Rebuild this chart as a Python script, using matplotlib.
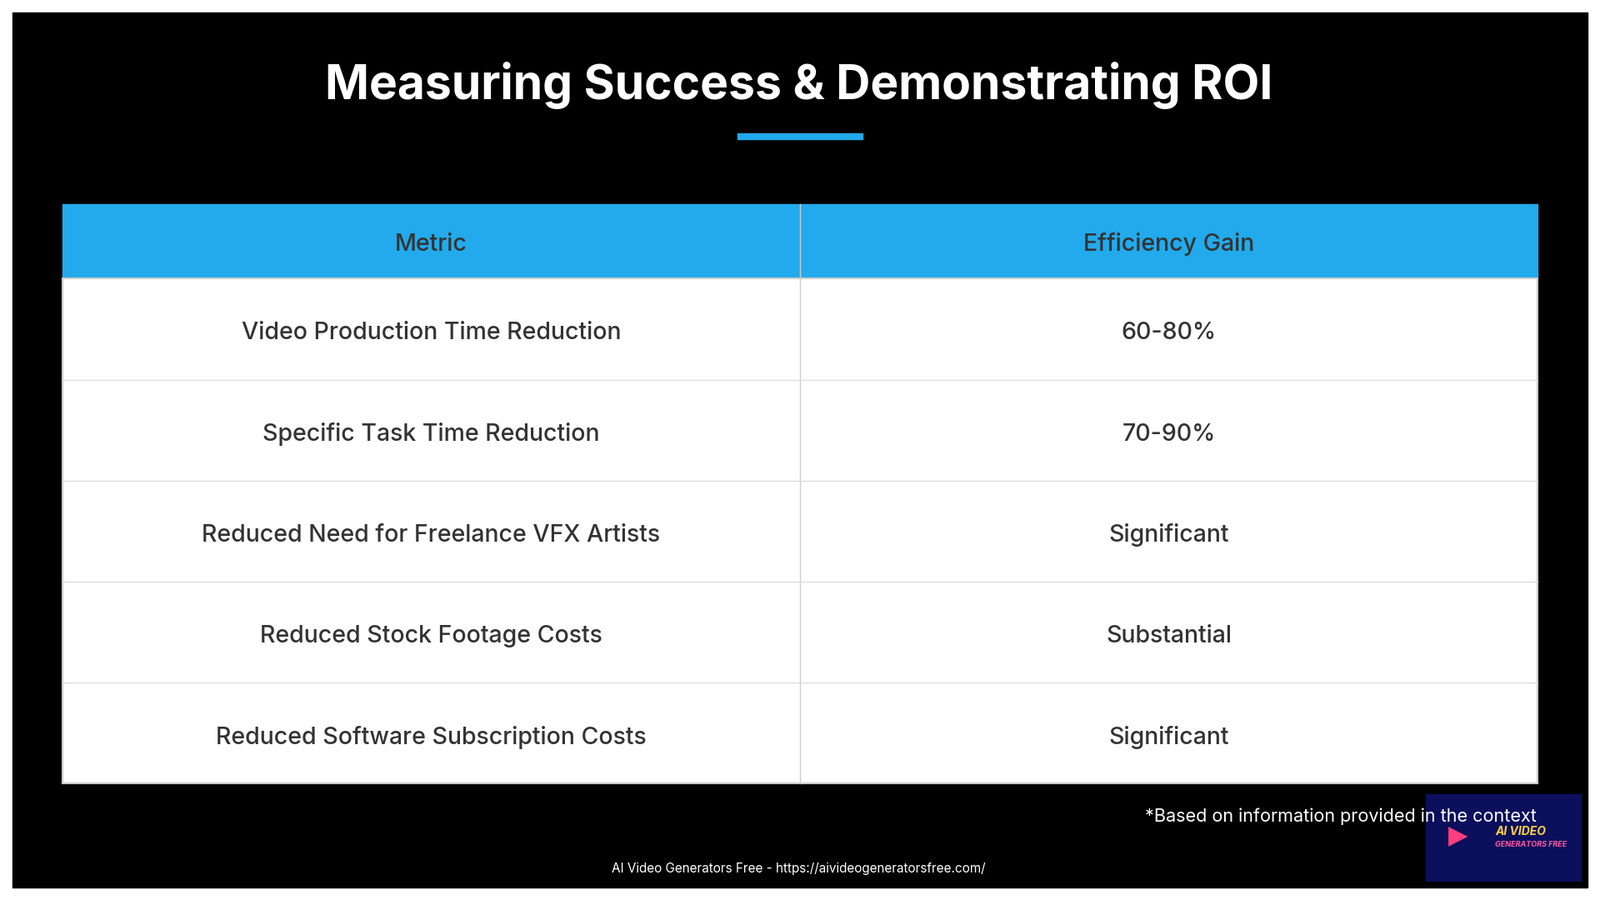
import matplotlib.pyplot as plt
from matplotlib.patches import Rectangle

title = "Measuring Success & Demonstrating ROI"
headers = ["Metric", "Efficiency Gain"]
metrics = ["Video Production Time Reduction", "Specific Task Time Reduction",
           "Reduced Need for Freelance VFX Artists", "Reduced Stock Footage Costs",
           "Reduced Software Subscription Costs"]
gains = ["60-80%", "70-90%", "Significant", "Substantial", "Significant"]
footnote = "*Based on information provided in the context"
footer = "AI Video Generators Free - https://aivideogeneratorsfree.com/"

W, H = 1568, 882
fig = plt.figure(figsize=(19.2, 10.8), dpi=100)
ax = fig.add_axes([0, 0, 1, 1])
ax.set_xlim(0, W)
ax.set_ylim(H, 0)
ax.axis("off")
fig.patch.set_facecolor("white")

ax.add_patch(Rectangle((12, 12), W - 24, H - 24, color="black"))
ax.text(783, 84, title, color="white", fontsize=41, fontweight="bold",
        family="Inter", ha="center", va="center")
ax.add_patch(Rectangle((723, 131), 122, 5, color="#22a8ea"))

x0, x1, xm = 61, 1507, 784
hy0, hy1 = 200, 273
rh = 99
ax.add_patch(Rectangle((x0, hy0), x1 - x0, hy1 - hy0, color="#22aaec"))
for j, h in enumerate(headers):
    cx = (x0 + xm) / 2 if j == 0 else (xm + x1) / 2
    ax.text(cx, (hy0 + hy1) / 2 + 3, h, color="#333333", fontsize=20.5,
            family="Inter", fontweight="medium", ha="center", va="center")
ybot = hy1 + rh * len(metrics)
ax.add_patch(Rectangle((x0, hy1), x1 - x0, ybot - hy1, facecolor="white",
                       edgecolor="#cccccc", lw=1.5))
ax.plot([xm, xm], [hy0, ybot], color="#cccccc", lw=1)
for i, (m, g) in enumerate(zip(metrics, gains)):
    yc = hy1 + rh * i + rh / 2
    if i > 0:
        ax.plot([x0, x1], [hy1 + rh * i] * 2, color="#dddddd", lw=1)
    ax.text((x0 + xm) / 2, yc + 4, m, color="#333333", fontsize=20.5,
            family="Inter", fontweight="medium", ha="center", va="center")
    ax.text((xm + x1) / 2, yc + 4, g, color="#333333", fontsize=20.5,
            family="Inter", fontweight="medium", ha="center", va="center")

ax.add_patch(Rectangle((1397, 778), 152, 85, color="#0b0f5c"))
ax.text(1465, 815, "AI VIDEO", color="#ffd23f", fontsize=10, fontweight="bold",
        style="italic", ha="left", va="center", family="Inter")
ax.text(1465, 828, "GENERATORS FREE", color="#ff5aa0", fontsize=6.5,
        fontweight="bold", style="italic", ha="left", va="center", family="Inter")
ax.text(1429, 820, "\u25b6", color="#ff3d7f", fontsize=22, ha="center", va="center",
        family="DejaVu Sans")
ax.text(1506, 800, footnote, color="white", fontsize=15.5, family="Inter",
        ha="right", va="center", zorder=5)
ax.text(783, 851, footer, color="white", fontsize=11, family="Inter",
        ha="center", va="center")

fig.savefig("out.png", dpi=100, facecolor="white")
